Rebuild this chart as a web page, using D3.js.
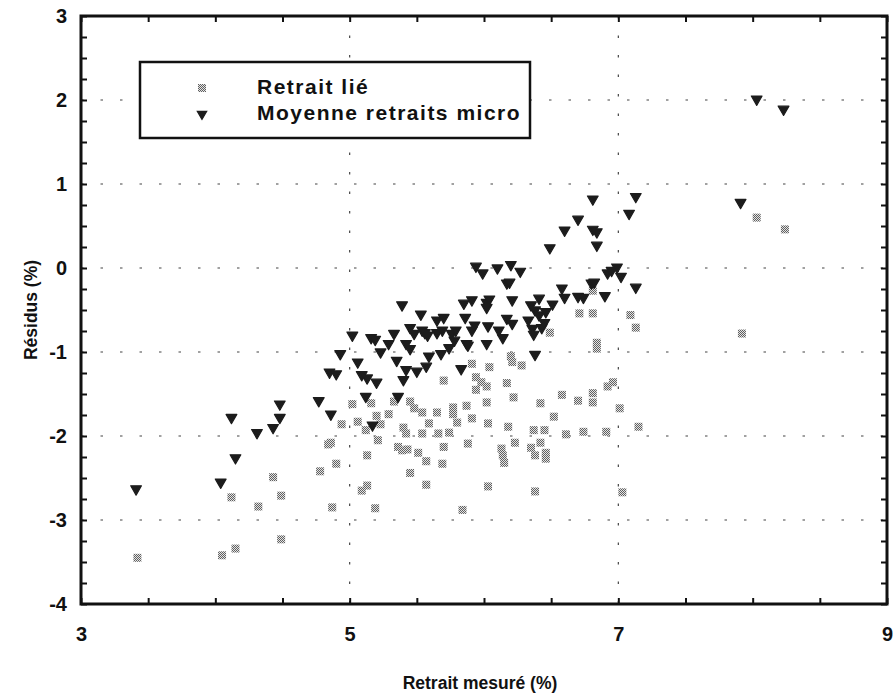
<!DOCTYPE html>
<html><head><meta charset="utf-8">
<script src="https://cdn.jsdelivr.net/npm/d3@7"></script>
<style>
html,body{margin:0;padding:0;background:#fff;}
text{font-family:"Liberation Sans",Arial,Helvetica,sans-serif;font-weight:bold;fill:#111;}
</style></head>
<body>
<svg id="chart" width="895" height="694"></svg>
<script>
// ---- data ----
const seriesNames = ["Retrait lié", "Moyenne retraits micro"];
const xTickLabels = [3, 5, 7, 9];
const yTickLabels = [-4, -3, -2, -1, 0, 1, 2, 3];
const xGrid = [5, 7];
const yGrid = [-3, -2, -1, 0, 1, 2];

const retraitLie = [
 [3.42,-3.45],[4.05,-3.42],[4.15,-3.34],[4.12,-2.73],[4.32,-2.84],[4.43,-2.49],[4.49,-2.71],[4.49,-3.23],
 [4.78,-2.42],[4.90,-2.33],[4.84,-2.10],[4.87,-2.85],[5.02,-1.62],[5.16,-1.61],[5.33,-1.59],[5.45,-1.59],
 [5.48,-1.67],[5.54,-1.72],[5.65,-1.72],[5.77,-1.66],[5.77,-1.74],[5.87,-1.64],[5.80,-1.84],[4.94,-1.86],
 [5.06,-1.83],[5.12,-1.93],[5.20,-1.76],[5.23,-1.86],[5.29,-1.74],[5.40,-1.90],[5.42,-1.97],[5.54,-1.97],
 [5.59,-1.85],[5.66,-1.97],[5.74,-1.96],[4.86,-2.08],[5.21,-2.05],[5.36,-2.13],[5.39,-2.17],[5.43,-2.16],
 [5.51,-2.20],[5.70,-2.13],[5.13,-2.23],[5.57,-2.30],[5.69,-2.33],[5.45,-2.44],[5.13,-2.59],[5.09,-2.65],
 [5.57,-2.58],[5.19,-2.86],[5.84,-2.88],[5.88,-2.09],[6.71,-0.54],[6.81,-0.54],[7.09,-0.56],[7.13,-0.71],
 [6.49,-0.77],[6.84,-0.89],[6.84,-0.96],[6.20,-1.05],[6.21,-1.12],[6.28,-1.16],[5.91,-1.14],[6.04,-1.18],
 [5.70,-1.34],[5.94,-1.30],[5.98,-1.36],[6.02,-1.41],[5.94,-1.45],[6.17,-1.37],[6.22,-1.54],[6.02,-1.60],
 [6.58,-1.51],[6.70,-1.58],[6.81,-1.49],[6.81,-1.60],[6.92,-1.41],[6.96,-1.36],[6.42,-1.61],[6.52,-1.77],
 [7.01,-1.67],[5.91,-1.79],[6.03,-1.85],[6.18,-1.89],[6.37,-1.93],[6.45,-1.93],[6.61,-1.98],[6.74,-1.95],
 [6.91,-1.95],[7.15,-1.89],[6.13,-2.15],[6.14,-2.23],[6.15,-2.32],[6.23,-2.08],[6.35,-2.14],[6.42,-2.08],
 [6.38,-2.23],[6.46,-2.20],[6.46,-2.27],[6.03,-2.60],[6.38,-2.66],[7.03,-2.67],[7.92,-0.78],[8.03,0.60],
 [8.24,0.46],[6.81,-0.27]
];

const moyenneMicro = [
 [3.41,-2.63],[4.04,-2.55],[4.15,-2.26],[4.12,-1.78],[4.31,-1.96],[4.43,-1.90],[4.48,-1.78],[4.48,-1.62],
 [4.77,-1.58],[4.86,-1.74],[4.85,-1.24],[4.90,-1.26],[4.93,-1.02],[5.02,-0.80],[5.06,-1.12],[5.09,-1.27],
 [5.13,-1.31],[5.20,-1.36],[5.12,-1.53],[5.17,-1.87],[5.16,-0.83],[5.19,-0.85],[5.23,-1.00],[5.29,-0.90],
 [5.33,-0.78],[5.35,-1.10],[5.36,-1.53],[5.42,-1.21],[5.40,-1.33],[5.45,-0.71],[5.48,-0.78],[5.42,-0.90],
 [5.45,-0.96],[5.50,-1.23],[5.39,-0.44],[5.53,-0.55],[5.65,-0.62],[5.70,-0.59],[5.85,-0.42],[5.86,-0.59],
 [5.54,-0.74],[5.56,-0.77],[5.58,-0.80],[5.65,-0.77],[5.69,-0.74],[5.76,-0.78],[5.79,-0.74],[5.78,-0.86],
 [5.59,-1.05],[5.68,-1.02],[5.74,-0.95],[5.87,-0.90],[5.57,-1.17],[5.83,-1.20],[5.91,-0.38],[6.02,-0.41],
 [6.04,-0.37],[6.02,-0.47],[6.21,-0.38],[6.35,-0.44],[6.41,-0.36],[6.51,-0.43],[6.38,-0.50],[6.41,-0.56],
 [6.46,-0.52],[5.93,-0.68],[5.91,-0.74],[6.03,-0.69],[6.17,-0.60],[6.21,-0.66],[6.33,-0.62],[6.36,-0.72],
 [6.37,-0.79],[6.45,-0.65],[6.43,-0.71],[6.11,-0.74],[6.14,-0.83],[5.88,-0.92],[6.02,-0.90],[6.38,-1.03],
 [5.94,0.02],[5.99,-0.06],[6.10,0.00],[6.20,0.04],[6.27,-0.04],[6.17,-0.18],[6.19,-0.17],[6.49,0.24],
 [6.60,0.45],[6.70,0.58],[6.81,0.82],[6.81,0.46],[6.84,0.43],[6.84,0.27],[6.58,-0.24],[6.60,-0.35],
 [6.70,-0.34],[6.74,-0.35],[6.80,-0.18],[6.82,-0.17],[6.90,-0.33],[6.92,-0.06],[6.95,-0.03],[6.99,0.01],
 [7.02,-0.10],[7.13,-0.23],[7.08,0.65],[7.13,0.85],[7.91,0.78],[8.03,2.01],[8.23,1.89]
];

// ---- layout ----
const svg = d3.select("#chart");
const L = 81, R = 887, T = 16, B = 604;
const x = d3.scaleLinear().domain([3, 9]).range([L, R]);
const y = d3.scaleLinear().domain([-4, 3]).range([B, T]);

// checker pattern for grey squares
const defs = svg.append("defs");
const pat = defs.append("pattern").attr("id", "checker").attr("patternUnits", "userSpaceOnUse")
  .attr("width", 2).attr("height", 2);
pat.append("rect").attr("width", 2).attr("height", 2).attr("fill", "#e4e4e4");
pat.append("rect").attr("width", 1).attr("height", 1).attr("fill", "#606060");
pat.append("rect").attr("x", 1).attr("y", 1).attr("width", 1).attr("height", 1).attr("fill", "#606060");

// grid
const grid = svg.append("g").attr("stroke", "#444").attr("stroke-width", 1.2).attr("stroke-dasharray", "2.5,17");
grid.selectAll("line.h").data(yGrid).join("line").attr("class", "h")
  .attr("x1", L).attr("x2", R).attr("y1", d => y(d)).attr("y2", d => y(d));
grid.selectAll("line.v").data(xGrid).join("line").attr("class", "v")
  .attr("y1", T).attr("y2", B).attr("x1", d => x(d)).attr("x2", d => x(d));

// axes (ticks inward)
const xMinor = d3.range(3, 9.001, 0.5);
const yMinor = d3.range(-4, 3.001, 0.25);
const fmtX = d => Number.isInteger(d) && xTickLabels.includes(d) ? d : "";
const fmtY = d => Number.isInteger(d) && yTickLabels.includes(d) ? d : "";

function styleAxis(g) {
  g.select(".domain").remove();
  g.selectAll(".tick line").attr("stroke", "#111").attr("stroke-width", 2);
  g.selectAll(".tick text").attr("font-size", 20).attr("font-weight", "bold")
    .attr("font-family", '"Liberation Sans",Arial,sans-serif').attr("fill", "#111");
}
svg.append("g").attr("transform", `translate(0,${B})`)
  .call(d3.axisBottom(x).tickValues(xMinor).tickSizeInner(-6).tickSizeOuter(0).tickPadding(23).tickFormat(fmtX))
  .call(styleAxis);
svg.append("g").attr("transform", `translate(0,${T})`)
  .call(d3.axisTop(x).tickValues(xMinor).tickSizeInner(-6).tickSizeOuter(0).tickFormat(""))
  .call(styleAxis);
svg.append("g").attr("transform", `translate(${L},0)`)
  .call(d3.axisLeft(y).tickValues(yMinor).tickSizeInner(-6).tickSizeOuter(0).tickPadding(14).tickFormat(fmtY))
  .call(styleAxis);
svg.append("g").attr("transform", `translate(${R},0)`)
  .call(d3.axisRight(y).tickValues(yMinor).tickSizeInner(-6).tickSizeOuter(0).tickFormat(""))
  .call(styleAxis);

// frame
svg.append("rect").attr("x", L).attr("y", T).attr("width", R - L).attr("height", B - T)
  .attr("fill", "none").attr("stroke", "#111").attr("stroke-width", 3);

// points
const sq = 8;
svg.append("g").selectAll("rect").data(retraitLie).join("rect")
  .attr("x", d => x(d[0]) - sq / 2).attr("y", d => y(d[1]) - sq / 2)
  .attr("width", sq).attr("height", sq).attr("fill", "url(#checker)");

const tri = d3.symbol().type(d3.symbolTriangle).size(50);
svg.append("g").selectAll("path").data(moyenneMicro).join("path")
  .attr("d", tri)
  .attr("transform", d => `translate(${x(d[0])},${y(d[1])}) rotate(180)`)
  .attr("fill", "#1c1c1c").attr("stroke", "#1c1c1c").attr("stroke-width", 1.2).attr("stroke-linejoin", "round");

// legend
const lg = svg.append("g");
lg.append("rect").attr("x", 140).attr("y", 62).attr("width", 390).attr("height", 76)
  .attr("fill", "#fff").attr("stroke", "#111").attr("stroke-width", 2.5);
lg.append("rect").attr("x", 202 - sq / 2).attr("y", 88 - sq / 2).attr("width", sq).attr("height", sq)
  .attr("fill", "url(#checker)");
lg.append("path").attr("d", d3.symbol().type(d3.symbolTriangle).size(38)).attr("transform", "translate(202,114) rotate(180)")
  .attr("fill", "#1c1c1c").attr("stroke", "#1c1c1c").attr("stroke-width", 1.2);
lg.selectAll("text").data(seriesNames).join("text")
  .attr("x", 257).attr("y", (d, i) => 94 + i * 26).attr("font-size", 21)
  .attr("letter-spacing", 1.5).text(d => d);

// axis titles
svg.append("text").attr("x", 480).attr("y", 689).attr("text-anchor", "middle")
  .attr("font-size", 17.5).text("Retrait mesuré (%)");
svg.append("text").attr("transform", "translate(37,310) rotate(-90)").attr("text-anchor", "middle")
  .attr("font-size", 17.5).text("Résidus (%)");
</script>
</body></html>
